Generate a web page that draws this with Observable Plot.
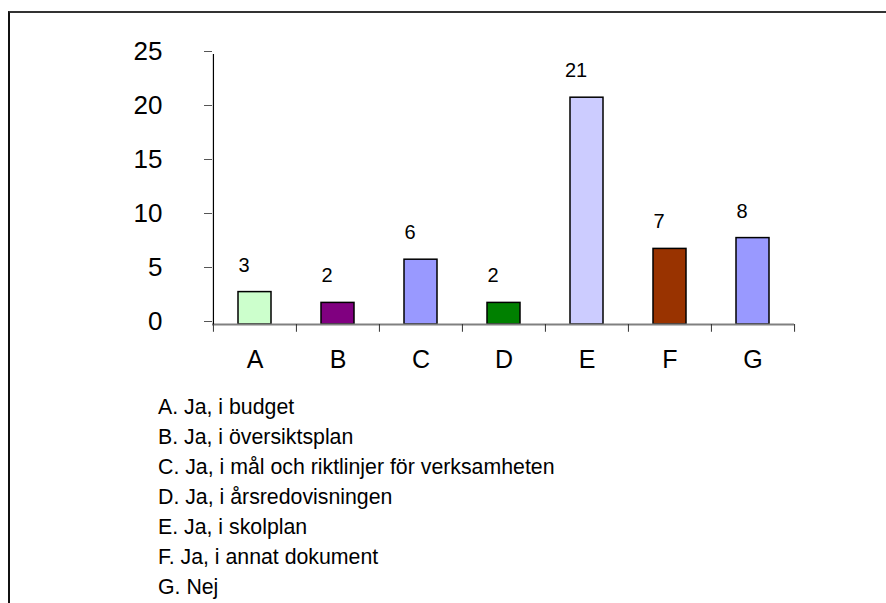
<!DOCTYPE html>
<html>
<head>
<meta charset="utf-8">
<script src="https://cdn.jsdelivr.net/npm/d3@7"></script>
<script src="https://cdn.jsdelivr.net/npm/@observablehq/plot@0.6"></script>
<style>
  html, body { margin: 0; padding: 0; background: #fff; }
  #wrap { position: relative; width: 886px; height: 603px; overflow: hidden; font-family: "Liberation Sans", Arial, sans-serif; }
  #frame { position: absolute; left: 8px; top: 11px; width: 900px; height: 620px; border-top: 2px solid #333; border-left: 2px solid #111; }
  #chart { position: absolute; left: 0; top: 0; }
  #legend { position: absolute; left: 158px; top: 392px; font-size: 21.3px; line-height: 30px; color: #000; white-space: nowrap; }
</style>
</head>
<body>
<div id="wrap">
  <div id="frame"></div>
  <div id="chart"></div>
  <div id="legend"></div>
</div>
<script>
const categories = ["A", "B", "C", "D", "E", "F", "G"];
const values = [3, 2, 6, 2, 21, 7, 8];
const barColors = ["#CCFFCC", "#800080", "#9999FF", "#008000", "#CCCCFF", "#993300", "#9999FF"];
const yTicks = [0, 5, 10, 15, 20, 25];
const legendLabels = [
  "A. Ja, i budget",
  "B. Ja, i översiktsplan",
  "C. Ja, i mål och riktlinjer för verksamheten",
  "D. Ja, i årsredovisningen",
  "E. Ja, i skolplan",
  "F. Ja, i annat dokument",
  "G. Nej"
];

const data = categories.map((c, i) => ({cat: c, value: values[i], color: barColors[i]}));

const W = 886, H = 390, mL = 212, mR = 92;
const bw = (W - mL - mR) / categories.length;

const chart = Plot.plot({
  width: W,
  height: H,
  marginTop: 54,
  marginBottom: 66,
  marginLeft: mL,
  marginRight: mR,
  style: {fontFamily: "'Liberation Sans', Arial, sans-serif", background: "transparent", color: "#000"},
  x: {domain: categories, padding: 0},
  y: {domain: [0, 25]},
  marks: [
    Plot.barY(data, {x: "cat", y: "value", fill: "color", stroke: "#000", strokeWidth: 1.5, insetLeft: 25, insetRight: 25}),
    Plot.ruleY([0], {stroke: "#808080", strokeWidth: 2}),
    Plot.ruleX([categories[0]], {x: d => d, y1: 0, y2: 25, dx: -bw / 2, stroke: "#000", strokeWidth: 1.2}),
    Plot.ruleX(categories, {x: d => d, y1: 0, y2: -0.72, dx: -bw / 2, stroke: "#333"}),
    Plot.ruleX([categories[categories.length - 1]], {x: d => d, y1: 0, y2: -0.72, dx: bw / 2, stroke: "#333"}),
    Plot.axisY({ticks: yTicks, tickSize: 8, tickPadding: 42, fontSize: 26, dy: -3, label: null, stroke: "#555"}),
    Plot.axisX({tickSize: 0, tickPadding: 26, fontSize: 25, label: null}),
    Plot.text(data, {x: "cat", y: "value", text: d => String(d.value), dy: -27, dx: -11, fontSize: 20, fill: "#000"})
  ]
});
document.getElementById("chart").appendChild(chart);

const legend = document.getElementById("legend");
legendLabels.forEach(t => {
  const div = document.createElement("div");
  div.textContent = t;
  legend.appendChild(div);
});
</script>
</body>
</html>
